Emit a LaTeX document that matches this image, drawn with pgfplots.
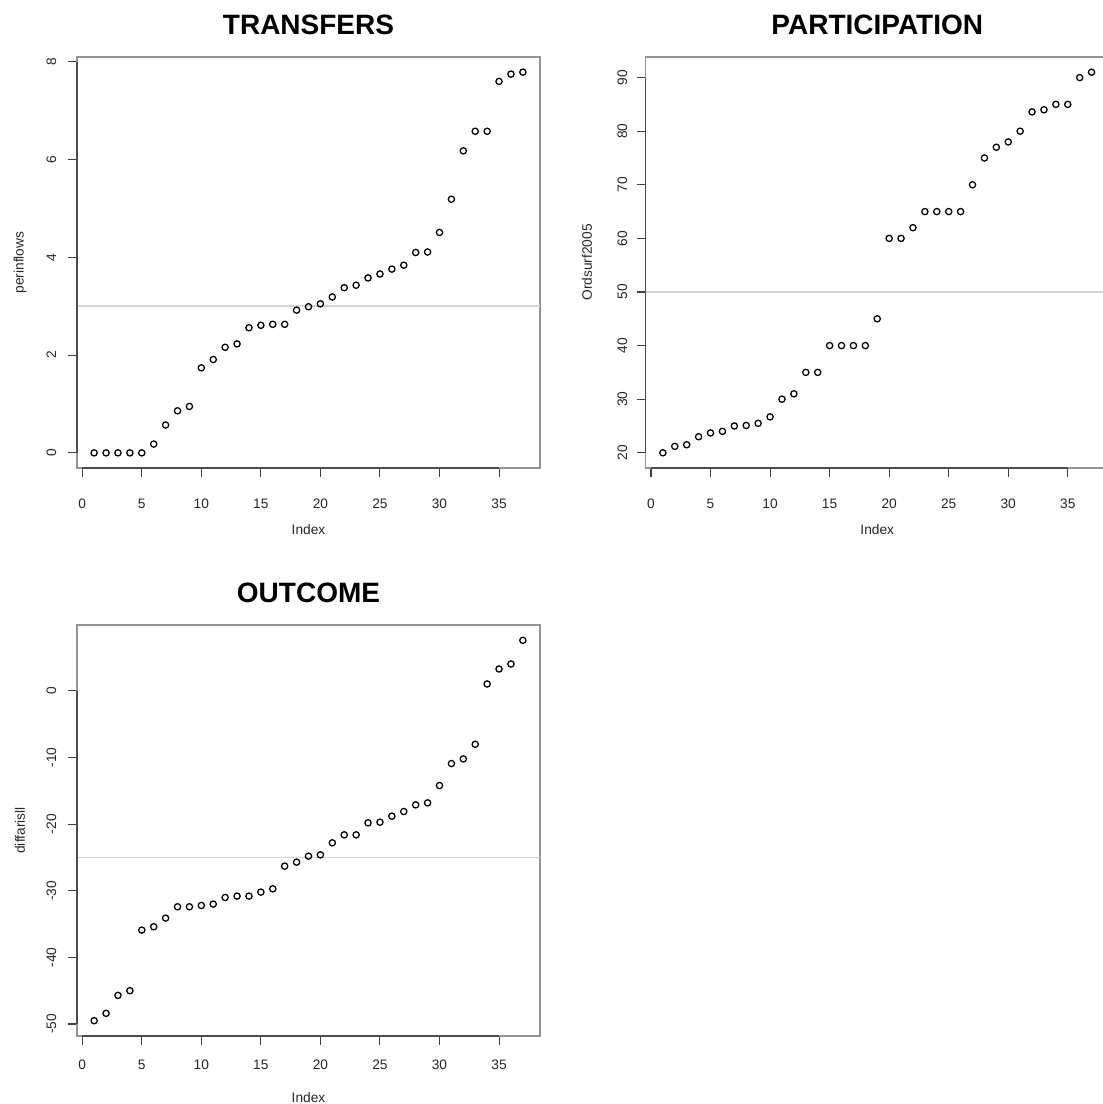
\documentclass[border=0pt]{standalone}
\usepackage{pgfplots}
\pgfplotsset{compat=1.18}
\usepackage{fontspec}
\setmainfont{Liberation Sans}
\newcommand{\rsmall}{\fontsize{10.3}{12}\selectfont}
\pgfplotsset{
  rstyle/.style={
    scale only axis, width=347.25pt, height=308.25pt,
    anchor=north west, clip=false,
    xmin=-0.44, xmax=38.44,
    xtick={0,5,...,35},
    axis line style={black!42, line width=0.8pt},
    tick align=outside, major tick length=6.5pt,
    tick style={black!75, line width=0.8pt},
    xtick pos=bottom, ytick pos=left,
    /pgf/number format/assume math mode=true,
    ticklabel style={font=\rsmall, text=black!85},
    label style={font=\rsmall, text=black!85},
    xlabel={Index},
    xlabel style={at={(axis description cs:0.5,-0.15)}, anchor=center},
    title style={at={(axis description cs:0.5,1)}, anchor=center, yshift=18.25pt, font=\fontsize{21}{24}\selectfont\bfseries},
  },
  pts/.style={only marks, mark=o, mark size=2.35pt, draw=black, mark options={draw=black, fill=none, line width=0.95pt}},
  hl/.style={no markers, sharp plot, draw=black!17, line width=1.2pt},
}
\begin{document}
\begin{tikzpicture}
% ---------------- TRANSFERS
\begin{axis}[rstyle, at={(57.75pt,-42.75pt)},
  title={TRANSFERS}, ylabel={perinflows},
  ylabel style={at={(axis description cs:-0.123,0.5)}, anchor=center},
  xticklabel style={anchor=center, yshift=-20.5pt},
  yticklabel style={xshift=-12.7pt, rotate=90, anchor=center},
  ymin=-0.31, ymax=8.10, ytick={0,2,4,6,8}]
\addplot[hl] coordinates {(-0.44,3) (38.44,3)};
\addplot[pts] coordinates {
(1,0) (2,0) (3,0) (4,0) (5,0) (6,0.18) (7,0.57) (8,0.86) (9,0.95) (10,1.74)
(11,1.91) (12,2.16) (13,2.23) (14,2.56) (15,2.61) (16,2.63) (17,2.63) (18,2.92) (19,2.99) (20,3.05)
(21,3.19) (22,3.38) (23,3.43) (24,3.58) (25,3.66) (26,3.76) (27,3.84) (28,4.10) (29,4.11) (30,4.51)
(31,5.19) (32,6.18) (33,6.58) (34,6.58) (35,7.60) (36,7.75) (37,7.79)};
\draw[black!70, line width=0.8pt] (axis cs:0,-0.31) -- (axis cs:35,-0.31);
\draw[black!70, line width=0.8pt] (axis cs:-0.44,0) -- (axis cs:-0.44,8);
\end{axis}
% ---------------- PARTICIPATION
\begin{axis}[rstyle, at={(484.3pt,-42.75pt)},
  title={PARTICIPATION}, ylabel={Ordsurf2005},
  ylabel style={at={(axis description cs:-0.127,0.5)}, anchor=center},
  xticklabel style={anchor=center, yshift=-20.5pt},
  yticklabel style={xshift=-11pt, rotate=90, anchor=center},
  ymin=17.16, ymax=93.84, ytick={20,30,...,90}]
\addplot[hl] coordinates {(-0.44,50) (38.44,50)};
\addplot[pts] coordinates {
(1,20) (2,21.2) (3,21.5) (4,23.0) (5,23.7) (6,24.0) (7,25.0) (8,25.1) (9,25.5) (10,26.7)
(11,30) (12,31) (13,35) (14,35) (15,40) (16,40) (17,40) (18,40) (19,45) (20,60)
(21,60) (22,62) (23,65) (24,65) (25,65) (26,65) (27,70) (28,75) (29,77) (30,78)
(31,80) (32,83.6) (33,84) (34,85) (35,85) (36,90) (37,91)};
\draw[black!70, line width=0.8pt] (axis cs:0,17.16) -- (axis cs:35,17.16);
\draw[black!70, line width=0.8pt] (axis cs:-0.44,20) -- (axis cs:-0.44,90);
\end{axis}
% ---------------- OUTCOME
\begin{axis}[rstyle, at={(57.75pt,-468.75pt)},
  title={OUTCOME}, ylabel={diffarisll},
  ylabel style={at={(axis description cs:-0.123,0.5)}, anchor=center},
  xticklabel style={anchor=center, yshift=-15pt},
  yticklabel style={xshift=-12.7pt, rotate=90, anchor=center},
  ymin=-51.8, ymax=9.9, ytick={-50,-40,...,0}]
\addplot[hl] coordinates {(-0.44,-25) (38.44,-25)};
\addplot[pts] coordinates {
(1,-49.5) (2,-48.4) (3,-45.7) (4,-45.0) (5,-35.9) (6,-35.4) (7,-34.1) (8,-32.4) (9,-32.4) (10,-32.2)
(11,-32.0) (12,-31.0) (13,-30.8) (14,-30.8) (15,-30.2) (16,-29.7) (17,-26.3) (18,-25.7) (19,-24.8) (20,-24.6)
(21,-22.8) (22,-21.6) (23,-21.6) (24,-19.8) (25,-19.7) (26,-18.8) (27,-18.1) (28,-17.1) (29,-16.8) (30,-14.2)
(31,-10.9) (32,-10.2) (33,-8.0) (34,1.05) (35,3.3) (36,4.05) (37,7.6)};
\draw[black!70, line width=0.8pt] (axis cs:0,-51.8) -- (axis cs:35,-51.8);
\draw[black!70, line width=0.8pt] (axis cs:-0.44,-50) -- (axis cs:-0.44,0);
\end{axis}
\pgfresetboundingbox
\useasboundingbox (0,0) rectangle (827.25pt,-828pt);
\end{tikzpicture}
\end{document}
